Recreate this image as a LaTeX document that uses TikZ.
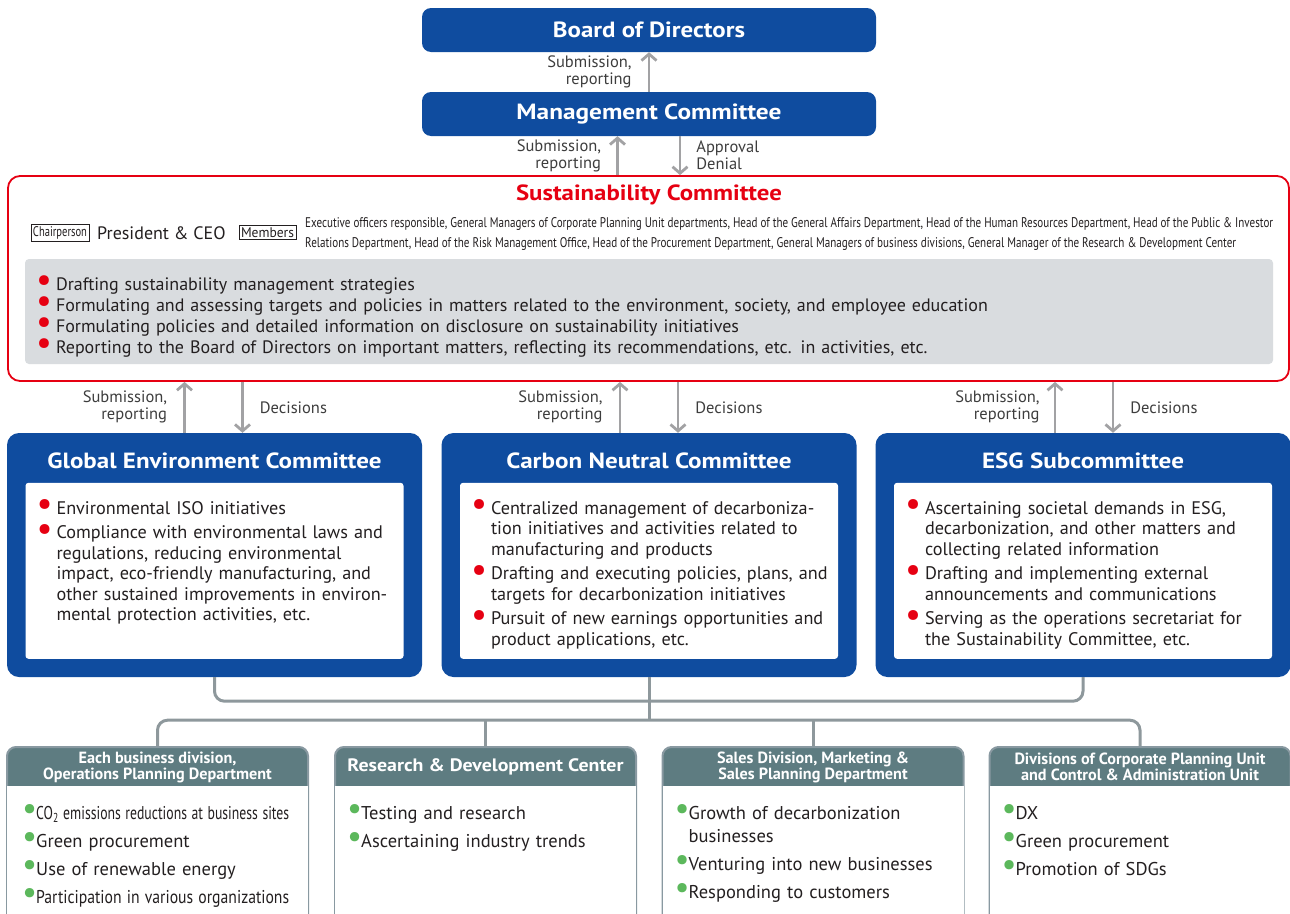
\documentclass[tikz,border=0pt]{standalone}
\usepackage{fontspec}
\usepackage{graphicx}
\setmainfont{PT Sans}
\usetikzlibrary{arrows.meta}

\definecolor{orgblue}{HTML}{0F4C9F}
\definecolor{scred}{HTML}{E60012}
\definecolor{scgray}{HTML}{D9DCDF}
\definecolor{arrowgray}{HTML}{A2A2A4}
\definecolor{linkgray}{HTML}{8E989C}
\definecolor{unitteal}{HTML}{5E7C81}
\definecolor{unitedge}{HTML}{8999A1}
\definecolor{dotgreen}{HTML}{5CB85C}
\definecolor{bodyink}{HTML}{231F20}
\definecolor{labelink}{HTML}{3D3D3D}

% bullets and list lines
\newcommand{\rdot}{\textcolor{scred}{\smash{\raisebox{-0.15ex}{\scalebox{1.95}{\textbullet}}}}}
\newcommand{\gdot}{\textcolor{dotgreen}{\smash{\raisebox{-0.05ex}{\scalebox{1.8}{\textbullet}}}}}
\newcommand{\ritem}[1]{\par\hangindent=20pt\hangafter=1\noindent\makebox[20pt][l]{\rdot}#1\par}
\newcommand{\gitem}[1]{\par\hangindent=13pt\hangafter=1\noindent\makebox[13pt][l]{\hspace{-1pt}\gdot}#1\par}
\newcommand{\igap}[1]{\vspace{#1}}
\newcommand{\fitto}[2]{\resizebox{#1}{\height}{#2}}

\begin{document}
\begin{tikzpicture}[x=1pt,y=-1pt,
  topbox/.style={fill=orgblue, rounded corners=9pt, minimum width=454pt, minimum height=44pt,
    text=white, font=\bfseries\fontsize{22}{24}\selectfont},
  combox/.style={fill=orgblue, rounded corners=12pt, minimum width=415pt, minimum height=244pt},
  comtitle/.style={text=white, font=\bfseries\fontsize{22}{24}\selectfont},
  inbox/.style={fill=white, rounded corners=3pt, minimum width=378pt, minimum height=176pt},
  items/.style={anchor=north west, inner sep=0pt, text=bodyink, align=left,
    font=\fontsize{18.2}{20.5}\selectfont},
  uitems/.style={anchor=north west, inner sep=0pt, text=bodyink, align=left, text width=280pt,
    font=\fontsize{18.5}{23}\selectfont},
  tagbox/.style={draw=bodyink, line width=0.6pt, inner xsep=2pt, inner ysep=2pt, text=bodyink,
    font=\fontsize{14}{15}\selectfont},
  lbl/.style={inner sep=0pt, text=labelink, font=\fontsize{16.5}{17}\selectfont},
  flow/.style={draw=arrowgray, line width=2.8pt, -{Straight Barb[length=6.5pt,width=15pt]}},
  link/.style={draw=linkgray, line width=3pt, rounded corners=10pt},
  unit/.style={draw=unitedge, line width=2pt, fill=unitteal, rounded corners=9pt,
    minimum width=301pt, minimum height=200pt, anchor=north},
  unithead/.style={text=white, align=center, font=\bfseries\fontsize{16.2}{16}\selectfont}]

\clip (0,0) rectangle (1290,913);

% top of the hierarchy
\node[topbox] (bd) at (649,30) {\fitto{192pt}{Board of Directors}};
\node[topbox] (mc) at (649,114) {\fitto{265pt}{Management Committee}};

% sustainability committee
\node[draw=scred, line width=1.8pt, fill=white, rounded corners=12pt,
  minimum width=1281pt, minimum height=205pt] (sc) at (648.5,278.5) {};
\node[text=scred, font=\bfseries\fontsize{22}{24}\selectfont] (sct) at (649,195) {\fitto{266pt}{Sustainability Committee}};
\node[tagbox] (ch) at (60,232.5) {\fitto{54pt}{Chairperson}};
\node[anchor=west, inner sep=0pt, text=bodyink, font=\fontsize{18}{20}\selectfont] (ceo) at (97,233) {President \& CEO};
\node[tagbox] (mb) at (267.5,232.5) {\fitto{53pt}{Members}};
\node[anchor=west, inner sep=0pt, text=bodyink, align=left, font=\fontsize{14}{20}\selectfont] (mbt) at (305,234)
  {\fitto{968pt}{Executive officers responsible, General Managers of Corporate Planning Unit departments, Head of the General Affairs Department, Head of the Human Resources Department, Head of the Public \& Investor}\\
   \fitto{931pt}{Relations Department, Head of the Risk Management Office, Head of the Procurement Department, General Managers of business divisions, General Manager of the Research \& Development Center}};
\node[fill=scgray, rounded corners=4pt, minimum width=1248pt, minimum height=105pt] (scg) at (649,311.5) {};
\node[items, text width=1220pt, font=\fontsize{18}{21}\selectfont] (sci) at ([xshift=11pt,yshift=-10pt]scg.north west) {%
  \ritem{Drafting sustainability management strategies}
  \ritem{Formulating and assessing targets and policies in matters related to the environment, society, and employee education}
  \ritem{Formulating policies and detailed information on disclosure on sustainability initiatives}
  \ritem{Reporting to the Board of Directors on important matters, reflecting its recommendations, etc. in activities, etc.}};

% three committees
\node[combox] (gec) at (214.5,555) {};
\node[combox] (cnc) at (649,555) {};
\node[combox] (esg) at (1083,555) {};
\node[comtitle] (gect) at ([yshift=-28pt]gec.north) {\fitto{334pt}{Global Environment Committee}};
\node[comtitle] (cnct) at ([yshift=-28pt]cnc.north) {\fitto{285pt}{Carbon Neutral Committee}};
\node[comtitle] (esgt) at ([yshift=-28pt]esg.north) {\fitto{202pt}{ESG Subcommittee}};
\node[inbox] (gecw) at ([yshift=-138pt]gec.north) {};
\node[inbox] (cncw) at ([yshift=-138pt]cnc.north) {};
\node[inbox] (esgw) at ([yshift=-138pt]esg.north) {};

\node[items, text width=365pt] (geci) at ([xshift=11pt,yshift=-11pt]gecw.north west) {%
  \ritem{Environmental ISO initiatives}\igap{4pt}
  \ritem{Compliance with environmental laws and\newline regulations, reducing environmental\newline impact, eco-friendly manufacturing, and\newline other sustained improvements in environ-\newline mental protection activities, etc.}};
\node[items, text width=365pt] (cnci) at ([xshift=11pt,yshift=-11pt]cncw.north west) {%
  \ritem{Centralized management of decarboniza-\newline tion initiatives and activities related to\newline manufacturing and products}\igap{4pt}
  \ritem{Drafting and executing policies, plans, and\newline targets for decarbonization initiatives}\igap{4pt}
  \ritem{Pursuit of new earnings opportunities and\newline product applications, etc.}};
\node[items, text width=365pt] (esgi) at ([xshift=11pt,yshift=-11pt]esgw.north west) {%
  \ritem{Ascertaining societal demands in ESG,\newline decarbonization, and other matters and\newline collecting related information}\igap{4pt}
  \ritem{Drafting and implementing external\newline announcements and communications}\igap{4pt}
  \ritem{Serving as the operations secretariat for\newline the Sustainability Committee, etc.}};

% reporting lines
\draw[flow] (mc.north) -- (bd.south) node[lbl, midway, anchor=east, xshift=-16pt, align=right] {Submission,\\reporting};
\draw[flow] ([xshift=-31pt]sc.north) -- ([xshift=-31pt]sc.north |- mc.south) node[lbl, midway, anchor=east, xshift=-15pt, align=right] {Submission,\\reporting};
\draw[flow] ([xshift=31pt]mc.south) -- ([xshift=31pt]mc.south |- sc.north) node[lbl, midway, anchor=west, xshift=15pt, align=left] {Approval\\Denial};

\draw[flow] ([xshift=-30pt]gec.north) -- ([xshift=-30pt]gec.north |- sc.south) node[lbl, midway, anchor=east, xshift=-16pt, align=right] {Submission,\\reporting};
\draw[flow] ([xshift=28pt]gec.north |- sc.south) -- ([xshift=28pt]gec.north) node[lbl, midway, anchor=west, xshift=16pt] {Decisions};
\draw[flow] ([xshift=-29pt]cnc.north) -- ([xshift=-29pt]cnc.north |- sc.south) node[lbl, midway, anchor=east, xshift=-16pt, align=right] {Submission,\\reporting};
\draw[flow] ([xshift=29pt]cnc.north |- sc.south) -- ([xshift=29pt]cnc.north) node[lbl, midway, anchor=west, xshift=16pt] {Decisions};
\draw[flow] ([xshift=-28pt]esg.north) -- ([xshift=-28pt]esg.north |- sc.south) node[lbl, midway, anchor=east, xshift=-14pt, align=right] {Submission,\\reporting};
\draw[flow] ([xshift=30pt]esg.north |- sc.south) -- ([xshift=30pt]esg.north) node[lbl, midway, anchor=west, xshift=16pt] {Decisions};

% divisions below
\node[unit] (bu) at (157.5,746) {};
\node[unit] (rd) at (485.5,746) {};
\node[unit] (sa) at (813,746) {};
\node[unit] (dv) at (1140,746) {};
\fill[white] ([xshift=1pt,yshift=-40pt]bu.north west) rectangle ([xshift=-1pt,yshift=1pt]bu.south east);
\fill[white] ([xshift=1pt,yshift=-40pt]rd.north west) rectangle ([xshift=-1pt,yshift=1pt]rd.south east);
\fill[white] ([xshift=1pt,yshift=-40pt]sa.north west) rectangle ([xshift=-1pt,yshift=1pt]sa.south east);
\fill[white] ([xshift=1pt,yshift=-40pt]dv.north west) rectangle ([xshift=-1pt,yshift=1pt]dv.south east);

\node[unithead] (buh) at ([yshift=-21pt]bu.north) {Each business division,\\Operations Planning Department};
\node[unithead, font=\bfseries\fontsize{18}{20}\selectfont] (rdh) at ([yshift=-21pt]rd.north) {\fitto{276pt}{Research \& Development Center}};
\node[unithead] (sah) at ([yshift=-21pt]sa.north) {Sales Division, Marketing \&\\Sales Planning Department};
\node[unithead] (dvh) at ([yshift=-21pt]dv.north) {Divisions of Corporate Planning Unit\\and Control \& Administration Unit};

\node[uitems] (bui) at ([xshift=17pt,yshift=-50pt]bu.north west) {%
  \gitem{\fitto{253pt}{CO\textsubscript{2} emissions reductions at business sites}}\igap{5pt}
  \gitem{Green procurement}\igap{5pt}
  \gitem{Use of renewable energy}\igap{5pt}
  \gitem{\fitto{253pt}{Participation in various organizations}}};
\node[uitems] (rdi) at ([xshift=14pt,yshift=-50pt]rd.north west) {%
  \gitem{Testing and research}\igap{5pt}
  \gitem{Ascertaining industry trends}};
\node[uitems] (sai) at ([xshift=14pt,yshift=-50pt]sa.north west) {%
  \gitem{Growth of decarbonization\newline businesses}\igap{5pt}
  \gitem{Venturing into new businesses}\igap{5pt}
  \gitem{Responding to customers}};
\node[uitems] (dvi) at ([xshift=14pt,yshift=-50pt]dv.north west) {%
  \gitem{DX}\igap{5pt}
  \gitem{Green procurement}\igap{5pt}
  \gitem{Promotion of SDGs}};

% connecting lines
\draw[link] (gec.south) -- ++(0,24) -| (esg.south);
\draw[link] (cnc.south) -- ++(0,43) coordinate (hub);
\draw[link] (bu.north) |- (hub) -| (dv.north);
\draw[link] (rd.north) -- (rd.north |- hub);
\draw[link] (sa.north) -- (sa.north |- hub);
\end{tikzpicture}
\end{document}
